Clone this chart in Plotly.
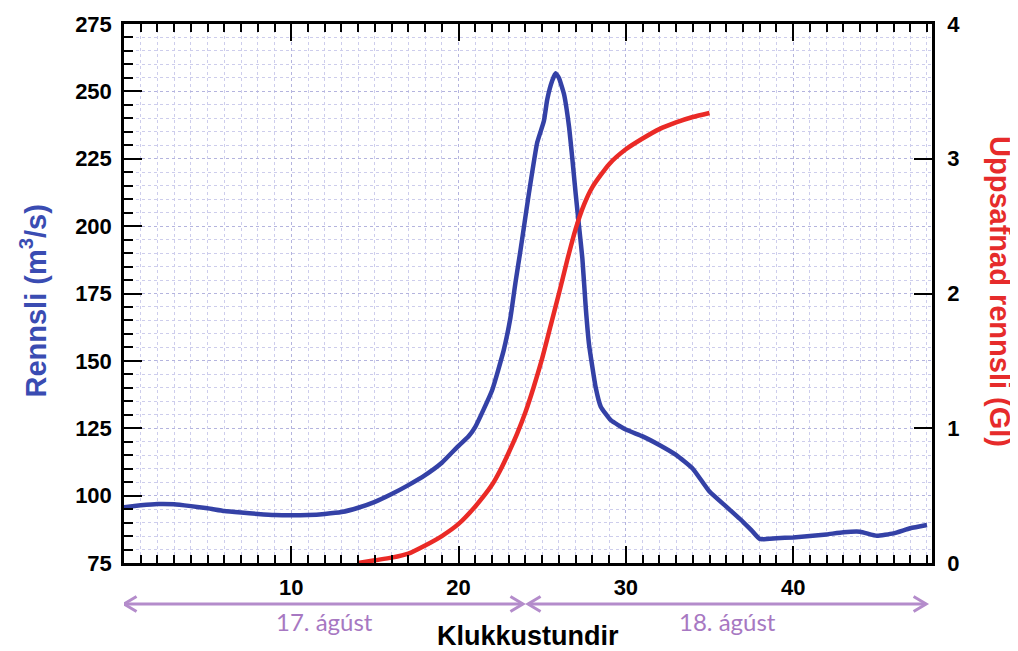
import plotly.graph_objects as go

# ---- data ----
flow_hours = [0, 1, 2, 3, 4, 5, 6, 7, 8, 9, 10, 11, 12, 13, 14, 15, 16, 17, 18, 19, 20,
              20.6, 21, 22, 22.7, 23.1, 23.4, 23.7, 24.2, 24.7, 25.1, 25.3, 25.6, 25.8,
              26.0, 26.3, 26.6, 26.8, 27.0, 27.2, 27.4, 27.6, 27.8, 28.2, 28.5, 29.1,
              30, 31, 32, 33, 34, 35, 36, 37, 37.5, 38, 39, 40, 41, 42, 43, 44, 45, 46, 47, 48]
flow_values = [95.7, 96.4, 96.9, 96.8, 96.1, 95.3, 94.3, 93.7, 93.2, 92.8, 92.7, 92.8, 93.2,
               93.9, 95.5, 97.7, 100.6, 103.9, 107.6, 112.2, 118.5,
               122, 125.5, 139, 154, 166, 179, 191, 212, 231, 239, 247, 254, 256.7,
               255, 249, 237, 225, 212, 200, 188, 170, 156, 140, 133, 128,
               124.5, 122, 118.8, 115.1, 110, 101.5, 95.9, 90.3, 87.2, 83.9, 84.2, 84.5,
               85, 85.6, 86.4, 86.6, 85.1, 86, 87.9, 89.1]

cum_hours = [14, 15, 16, 17, 18, 19, 20, 21, 22, 22.5, 23, 23.5, 24, 24.5, 25, 25.5, 26,
             26.5, 27, 27.5, 28, 29, 30, 31, 32, 33, 34, 35]
cum_values = [0.0, 0.02, 0.04, 0.07, 0.13, 0.2, 0.29, 0.42, 0.58, 0.69, 0.82, 0.96, 1.12,
              1.31, 1.52, 1.76, 2.0, 2.25, 2.48, 2.66, 2.79, 2.96, 3.07, 3.15, 3.22, 3.27,
              3.31, 3.34]

x_tick_vals = [10, 20, 30, 40]
left_tick_vals = [75, 100, 125, 150, 175, 200, 225, 250, 275]
right_tick_vals = [0, 1, 2, 3, 4]

day_labels = ["17. ágúst", "18. ágúst"]
day_bounds = [0, 24, 48.1]

# ---- styling ----
BLUE = "#3441a6"
RED = "#ea2a26"
PURPLE = "#b48ccb"
PURPLE_TXT = "#a778c2"
GRID = "#cdcdec"
GRID_MAJOR = "#b4b4de"
SANS = "Liberation Sans, Arial, sans-serif"
bold = dict(family=SANS, size=22, color="black", weight="bold")

fig = go.Figure()
fig.add_trace(go.Scatter(x=flow_hours, y=flow_values, mode="lines",
                         line=dict(color=BLUE, width=4.5, shape="spline", smoothing=0.4),
                         yaxis="y", showlegend=False, hoverinfo="skip"))
fig.add_trace(go.Scatter(x=cum_hours, y=cum_values, mode="lines",
                         line=dict(color=RED, width=4.5, shape="spline", smoothing=0.6),
                         yaxis="y2", showlegend=False, hoverinfo="skip"))

fig.update_layout(
    width=1010, height=643,
    margin=dict(l=116, r=86, t=16, b=88, autoexpand=False),
    paper_bgcolor="white", plot_bgcolor="white",
    xaxis=dict(
        range=[0, 48.3], tickmode="array", tickvals=x_tick_vals, automargin=False,
        ticks="inside", ticklen=17, tickwidth=2, tickcolor="black",
        showline=True, linewidth=2.5, linecolor="black", mirror="ticks",
        showgrid=True, gridcolor=GRID_MAJOR, griddash="dot", gridwidth=1,
        zeroline=False, tickfont=bold, ticklabelstandoff=3,
        minor=dict(tickmode="linear", tick0=0, dtick=1, ticks="inside", ticklen=8,
                   tickwidth=2, tickcolor="black", showgrid=True, gridcolor=GRID,
                   griddash="dot", gridwidth=1),
    ),
    yaxis=dict(
        range=[75, 275], tickmode="array", tickvals=left_tick_vals, automargin=False,
        ticks="inside", ticklen=18, tickwidth=2, tickcolor="black",
        showline=True, linewidth=2.5, linecolor="black", mirror=False,
        showgrid=True, gridcolor=GRID_MAJOR, griddash="dot", gridwidth=1,
        zeroline=False, tickfont=bold, ticklabelstandoff=5,
        minor=dict(tickmode="linear", tick0=75, dtick=5, ticks="inside", ticklen=9,
                   tickwidth=2, tickcolor="black", showgrid=True, gridcolor=GRID,
                   griddash="dot", gridwidth=1),
    ),
    yaxis2=dict(
        range=[0, 4], tickmode="array", tickvals=right_tick_vals, automargin=False,
        overlaying="y", side="right",
        ticks="inside", ticklen=18, tickwidth=2, tickcolor="black",
        showline=True, linewidth=2.5, linecolor="black",
        showgrid=False, zeroline=False, tickfont=bold, ticklabelstandoff=8,
    ),
)

# axis titles as annotations
fig.add_annotation(text="Rennsli (m<sup>3</sup>/s)", xref="paper", yref="paper",
                   x=-0.112, y=0.486, xanchor="center", yanchor="middle",
                   textangle=-90, showarrow=False,
                   font=dict(family=SANS, size=29, color="#3a4cb2", weight="bold"))
fig.add_annotation(text="Uppsafnad rennsli (Gl)", xref="paper", yref="paper",
                   x=1.084, y=0.503, xanchor="center", yanchor="middle",
                   textangle=90, showarrow=False,
                   font=dict(family=SANS, size=29, color="#e62b2b", weight="bold"))
fig.add_annotation(text="Klukkustundir", xref="paper", yref="paper",
                   x=0.5, y=-0.135, xanchor="center", yanchor="middle", showarrow=False,
                   font=dict(family=SANS, size=27, color="black", weight="bold"))

# day arrows and labels
arrow_y = -0.076
head_dx = 0.75
head_dy = 0.014
gap = 0.15
for i, label in enumerate(day_labels):
    x0 = day_bounds[i] + (gap if i > 0 else 0)
    x1 = day_bounds[i + 1] - gap
    fig.add_shape(type="line", xref="x", yref="paper", x0=x0, x1=x1, y0=arrow_y, y1=arrow_y,
                  line=dict(color=PURPLE, width=3))
    fig.add_shape(type="path", xref="x", yref="paper",
                  path=f"M {x0 + head_dx},{arrow_y + head_dy} L {x0},{arrow_y} L {x0 + head_dx},{arrow_y - head_dy}",
                  line=dict(color=PURPLE, width=3))
    fig.add_shape(type="path", xref="x", yref="paper",
                  path=f"M {x1 - head_dx},{arrow_y + head_dy} L {x1},{arrow_y} L {x1 - head_dx},{arrow_y - head_dy}",
                  line=dict(color=PURPLE, width=3))
    fig.add_annotation(text=label, xref="x", yref="paper",
                       x=(day_bounds[i] + day_bounds[i + 1]) / 2, y=-0.108,
                       xanchor="center", yanchor="middle", showarrow=False,
                       font=dict(family="Lato, Open Sans, sans-serif", size=24, color=PURPLE_TXT))

fig.write_html("out.html")
